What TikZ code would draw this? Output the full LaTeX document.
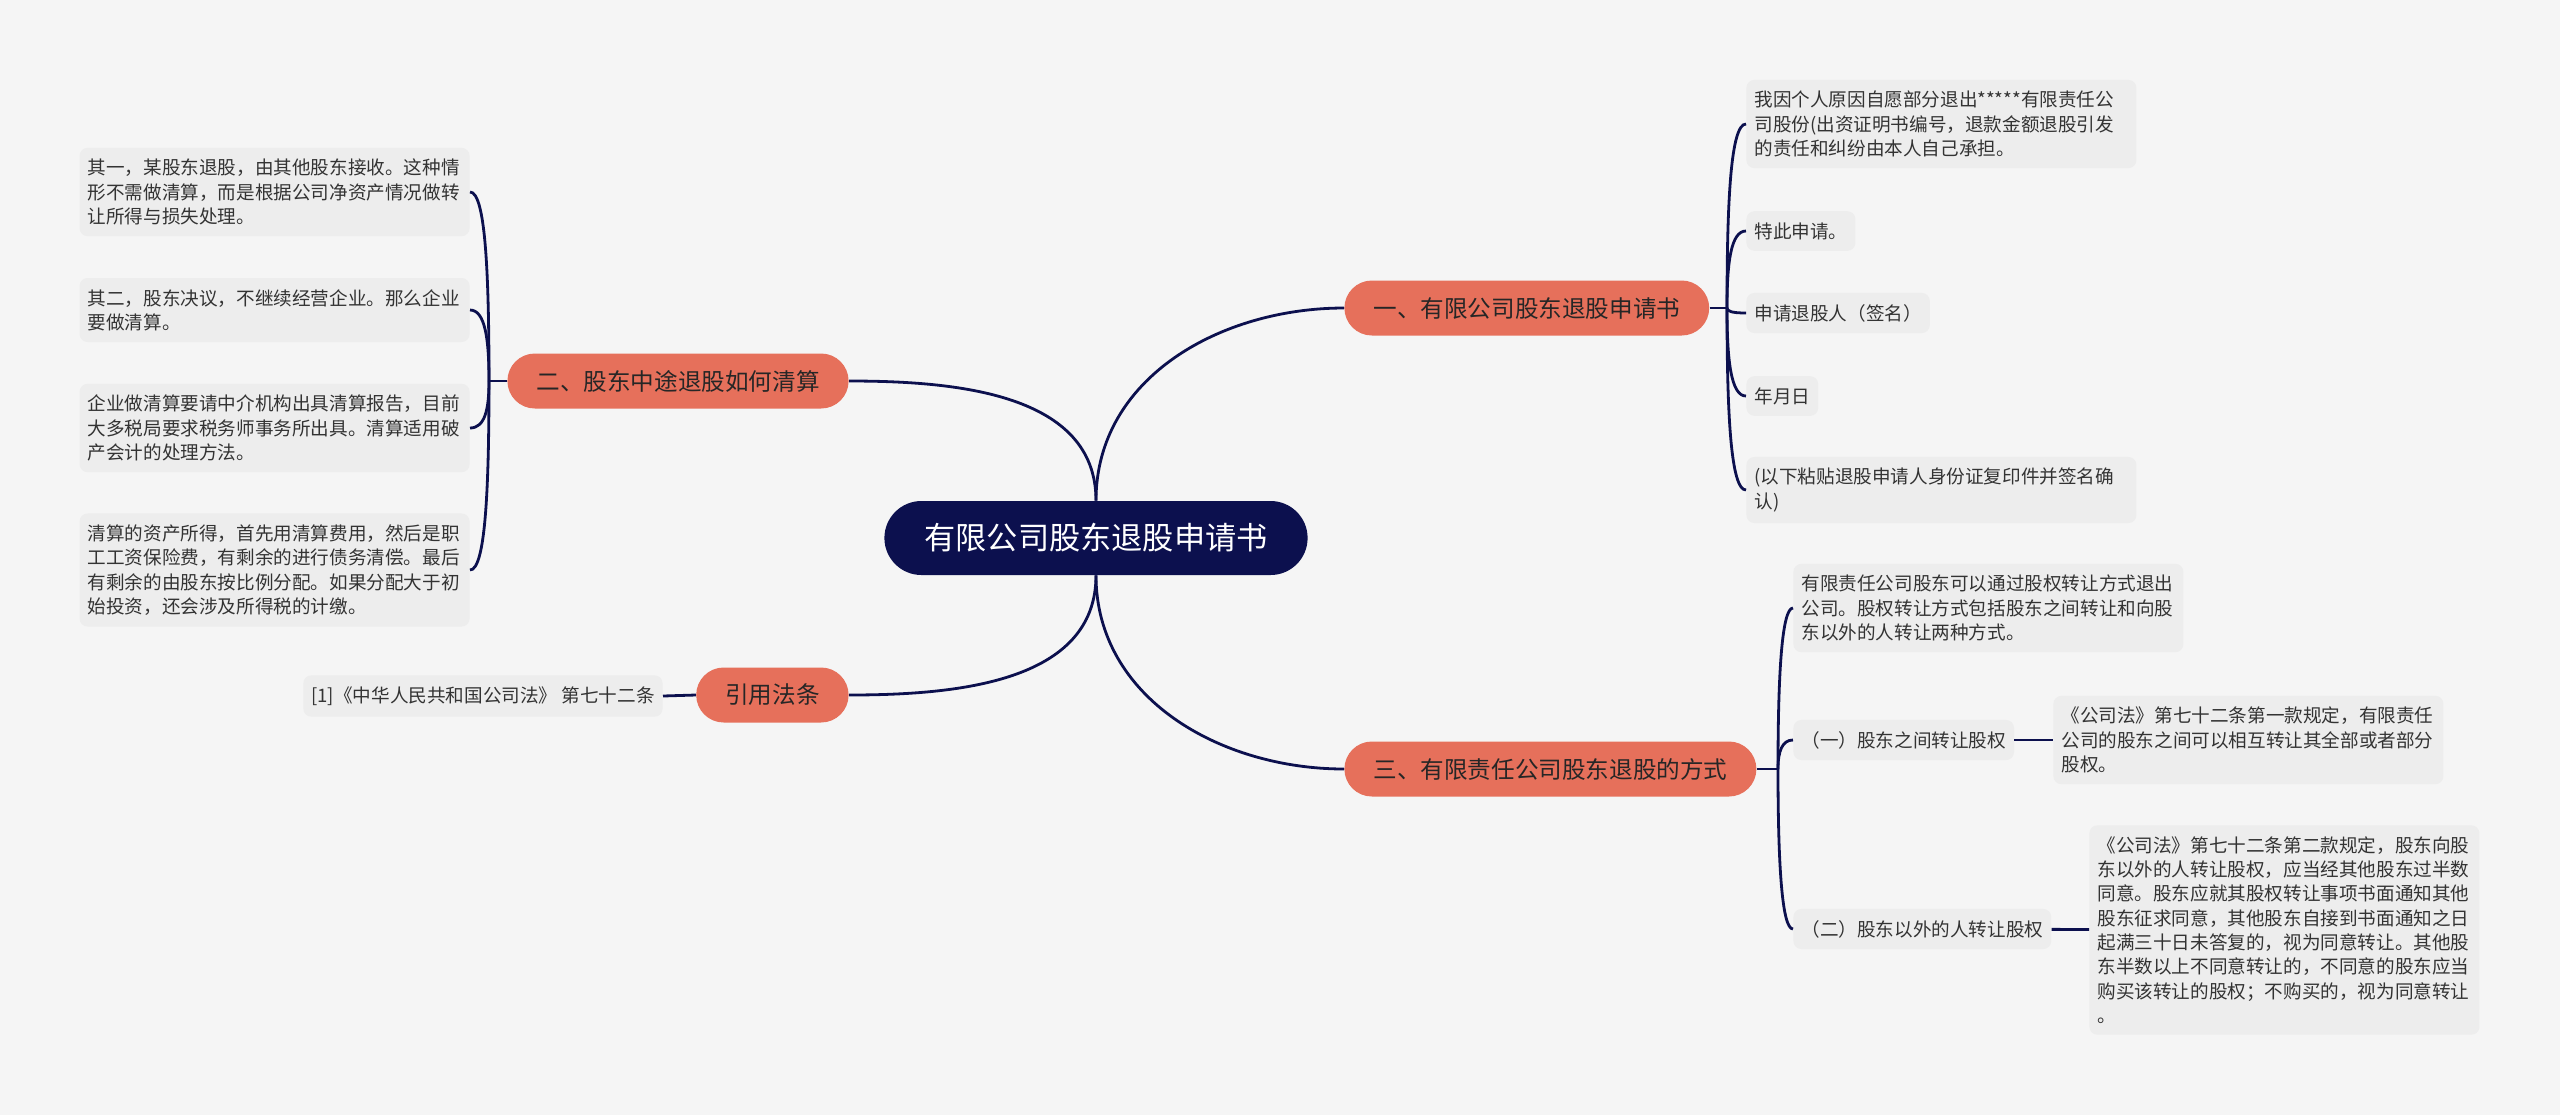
\documentclass[tikz,border=0pt]{standalone}
\usepackage{fontspec}
\setmainfont{Noto Sans CJK SC}
\usepackage{tikz}
\usetikzlibrary{calc}
\definecolor{bgcol}{HTML}{F5F5F5}
\definecolor{navy}{HTML}{0C104E}
\definecolor{salmon}{HTML}{E6705B}
\definecolor{leafcol}{HTML}{EDEDED}
\definecolor{inkcol}{HTML}{333333}

\begin{document}
\begin{tikzpicture}[
  x=0.5pt, y=-0.5pt,
  every node/.style={font=\fontsize{9.3}{12.15}\selectfont, text=inkcol},
  root/.style={fill=navy, text=white, rounded corners=18.5pt, minimum height=37pt,
               inner xsep=20pt, font=\fontsize{15.6}{18}\selectfont},
  topic/.style={fill=salmon, rounded corners=13.75pt, minimum height=27.5pt,
                inner xsep=14.5pt, text=black!85, font=\fontsize{11.8}{14}\selectfont},
  leaf/.style={fill=leafcol, rounded corners=4pt, inner xsep=4pt, inner ysep=5.6pt},
  note/.style={leaf, text width=187pt, align=left},
  link/.style={draw=navy, line width=1.4pt},
]
% canvas
\fill[bgcol] (0,0) rectangle (2560,1115);
\useasboundingbox (0,0) rectangle (2560,1115);

% centre and main topics
\node[root] (root) at (1096,538) {有限公司股东退股申请书};
\node[topic, anchor=west] (b1) at (1344,308) {一、有限公司股东退股申请书};
\node[topic, anchor=east] (b2) at (849,381) {二、股东中途退股如何清算};
\node[topic, anchor=east] (b3) at (849,695) {引用法条};
\node[topic, anchor=west] (b4) at (1344,769) {三、有限责任公司股东退股的方式};

\draw[link] (root.north) to[out=90,in=180] (b1.west);
\draw[link] (root.north) to[out=90,in=0] (b2.east);
\draw[link] (root.south) to[out=-90,in=0] (b3.east);
\draw[link] (root.south) to[out=-90,in=180] (b4.west);

% topic 1
\node[note, anchor=west] (l11) at (1746,124) {我因个人原因自愿部分退出*****有限责任公\\司股份(出资证明书编号，退款金额退股引发\\的责任和纠纷由本人自己承担。};
\node[leaf, anchor=west] (l12) at (1746,231) {特此申请。};
\node[leaf, anchor=west] (l13) at (1746,313) {申请退股人（签名）};
\node[leaf, anchor=west] (l14) at (1746,396) {年月日};
\node[note, anchor=west] (l15) at (1746,490) {(以下粘贴退股申请人身份证复印件并签名确\\认)};
\coordinate (h1) at (1727,308);
\draw[link] (b1.east) -- (h1);
\foreach \n in {l11,l12,l13,l14,l15}
  \draw[link] (h1) .. controls ($(h1)!0.6!(h1 |- \n.west)$) and ([xshift=2]h1 |- \n.west) .. (\n.west);

% topic 2
\node[note, anchor=east] (l21) at (470,192) {其一，某股东退股，由其他股东接收。这种情\\形不需做清算，而是根据公司净资产情况做转\\让所得与损失处理。};
\node[note, anchor=east] (l22) at (470,310) {其二，股东决议，不继续经营企业。那么企业\\要做清算。};
\node[note, anchor=east] (l23) at (470,428) {企业做清算要请中介机构出具清算报告，目前\\大多税局要求税务师事务所出具。清算适用破\\产会计的处理方法。};
\node[note, anchor=east] (l24) at (470,570) {清算的资产所得，首先用清算费用，然后是职\\工工资保险费，有剩余的进行债务清偿。最后\\有剩余的由股东按比例分配。如果分配大于初\\始投资，还会涉及所得税的计缴。};
\coordinate (h2) at (489,381);
\draw[link] (b2.west) -- (h2);
\foreach \n in {l21,l22,l23,l24}
  \draw[link] (h2) .. controls ($(h2)!0.6!(h2 |- \n.east)$) and ([xshift=-2]h2 |- \n.east) .. (\n.east);

% cited law
\node[leaf, anchor=east] (l31) at (663,696) {[1]《中华人民共和国公司法》 第七十二条};
\draw[link] (b3.west) -- (l31.east);

% topic 3
\node[note, anchor=west] (l41) at (1793,608) {有限责任公司股东可以通过股权转让方式退出\\公司。股权转让方式包括股东之间转让和向股\\东以外的人转让两种方式。};
\node[leaf, anchor=west] (l42) at (1793,740) {（一）股东之间转让股权};
\node[leaf, anchor=west] (l43) at (1793,929) {（二）股东以外的人转让股权};
\node[note, anchor=west] (l42a) at (2053,740) {《公司法》第七十二条第一款规定，有限责任\\公司的股东之间可以相互转让其全部或者部分\\股权。};
\node[note, anchor=west] (l43a) at (2089,930) {《公司法》第七十二条第二款规定，股东向股\\东以外的人转让股权，应当经其他股东过半数\\同意。股东应就其股权转让事项书面通知其他\\股东征求同意，其他股东自接到书面通知之日\\起满三十日未答复的，视为同意转让。其他股\\东半数以上不同意转让的，不同意的股东应当\\购买该转让的股权；不购买的，视为同意转让\\。};
\coordinate (h4) at (1778,769);
\draw[link] (b4.east) -- (h4);
\foreach \n in {l41,l42,l43}
  \draw[link] (h4) .. controls ($(h4)!0.6!(h4 |- \n.west)$) and ([xshift=2]h4 |- \n.west) .. (\n.west);
\draw[link] (l42) -- (l42a);
\draw[link] (l43) -- (l43a);
\end{tikzpicture}
\end{document}
